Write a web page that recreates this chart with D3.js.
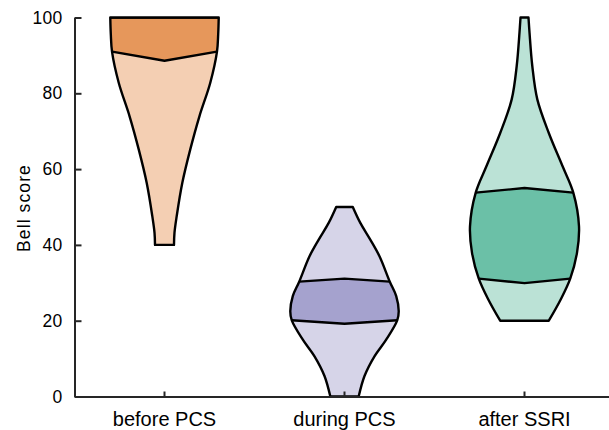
<!DOCTYPE html>
<html>
<head>
<meta charset="utf-8">
<script src="https://cdn.jsdelivr.net/npm/d3@7"></script>
<style>
  html, body { margin: 0; padding: 0; background: #fff; }
  svg { display: block; font-family: "Liberation Sans", Arial, Helvetica, sans-serif; }
</style>
</head>
<body>
<script>
// Groups along the x axis and their base colours
const categories = ["before PCS", "during PCS", "after SSRI"];
const palette = ["#d95f02", "#7570b3", "#1b9e77"];

// Kernel density profile of each group: score levels and relative density (max = 1)
const levels = [
  [100, 95.5, 91, 82.8, 74, 65.2, 56.4, 47.6, 43.2, 40],
  [50, 45.8, 41.4, 37, 30.3, 26.5, 22.5, 20.1, 15, 10.6, 5.4, 0],
  [100, 96, 87.2, 78.4, 69.6, 60.8, 53.8, 44.9, 37.9, 31.1, 25.6, 20]
];
const densities = [
  [0.995, 0.985, 0.963, 0.84, 0.642, 0.473, 0.327, 0.224, 0.183, 0.174],
  [0.152, 0.29, 0.473, 0.642, 0.831, 0.949, 0.995, 0.967, 0.765, 0.55, 0.367, 0.26],
  [0.073, 0.092, 0.143, 0.235, 0.444, 0.697, 0.895, 1.0, 0.963, 0.839, 0.664, 0.446]
];

// Interquartile range: quartile values, and the nearest profile levels inside it
const quartiles = [[88.6, 100], [19.2, 31.1], [29.9, 55.0]];
const quartileEdges = [[91, 100], [20.1, 30.3], [31.1, 53.8]];

const yTicks = [0, 20, 40, 60, 80, 100];
const yLabel = "Bell score";

const W = 609, H = 430;
const svg = d3.select("body").append("svg").attr("width", W).attr("height", H);

const y = d3.scaleLinear().domain([0, 100]).range([396.5, 17.5]);
const x = d3.scaleBand().domain(categories).range([74.5, 614.5]);
const halfWidth = d3.scaleLinear().domain([0, 1]).range([0, 54.5]);

const axisColor = "#262626";
const outlineWidth = 2.4;

// Violins
categories.forEach((cat, i) => {
  const cx = x(cat) + x.bandwidth() / 2;
  const pts = levels[i].map((v, j) => ({ v, d: densities[i][j] }));
  const area = d3.area()
    .curve(d3.curveCatmullRom.alpha(0.5))
    .y(p => y(p.v))
    .x0(p => cx - halfWidth(p.d))
    .x1(p => cx + halfWidth(p.d));
  const shape = area(pts);
  const light = d3.interpolateRgb("#ffffff", palette[i])(0.3);
  const dark = d3.interpolateRgb("#ffffff", palette[i])(0.65);

  svg.append("clipPath").attr("id", "violin-" + i)
    .append("path").attr("d", shape);

  svg.append("path").attr("d", shape).attr("fill", light);

  const densAt = d3.scaleLinear().domain(levels[i]).range(densities[i]);
  const [q1, q3] = quartiles[i];
  const [e1, e3] = quartileEdges[i];
  const h1 = halfWidth(densAt(e1)), h3 = halfWidth(densAt(e3));
  const far = 90;

  // Interquartile band, clipped to the violin outline
  const g = svg.append("g").attr("clip-path", `url(#violin-${i})`);
  g.append("path")
    .attr("d", d3.line()([
      [cx - far, y(e3)], [cx - h3, y(e3)], [cx, y(q3)], [cx + h3, y(e3)], [cx + far, y(e3)],
      [cx + far, y(e1)], [cx + h1, y(e1)], [cx, y(q1)], [cx - h1, y(e1)], [cx - far, y(e1)]
    ]) + "Z")
    .attr("fill", dark);

  [[e1, q1, h1], [e3, q3, h3]].forEach(([e, q, h]) => {
    g.append("path")
      .attr("d", d3.line()([[cx - far, y(e)], [cx - h, y(e)], [cx, y(q)], [cx + h, y(e)], [cx + far, y(e)]]))
      .attr("fill", "none").attr("stroke", "#000").attr("stroke-width", outlineWidth)
      .attr("stroke-linejoin", "round");
  });

  svg.append("path").attr("d", shape)
    .attr("fill", "none").attr("stroke", "#000").attr("stroke-width", outlineWidth)
    .attr("stroke-linejoin", "round");
});

// Y axis
const yAxis = svg.append("g").attr("transform", "translate(74.5,0)")
  .call(d3.axisLeft(y).tickValues(yTicks).tickSizeInner(-7).tickSizeOuter(0).tickPadding(12));
yAxis.attr("font-family", null);
yAxis.select(".domain").attr("stroke", axisColor).attr("stroke-width", 2);
yAxis.selectAll(".tick line").attr("stroke", axisColor).attr("stroke-width", 2);
yAxis.selectAll(".tick text")
  .attr("fill", "#000").style("font-size", "17.5px").style("letter-spacing", "0.3px");

// X axis
const xAxis = svg.append("g").attr("transform", "translate(0,396.5)")
  .call(d3.axisBottom(x).tickSizeInner(-5).tickSizeOuter(0).tickPadding(15.5));
xAxis.attr("font-family", null);
xAxis.select(".domain").attr("stroke", axisColor).attr("stroke-width", 2);
xAxis.selectAll(".tick line").attr("stroke", axisColor).attr("stroke-width", 2);
xAxis.selectAll(".tick text")
  .attr("fill", "#000").style("font-size", "20px");

// Y axis title
svg.append("text")
  .attr("transform", "translate(29.5,208) rotate(-90)")
  .attr("text-anchor", "middle")
  .attr("fill", "#000")
  .style("font-size", "17.5px")
  .style("letter-spacing", "1.1px")
  .text(yLabel);
</script>
</body>
</html>
